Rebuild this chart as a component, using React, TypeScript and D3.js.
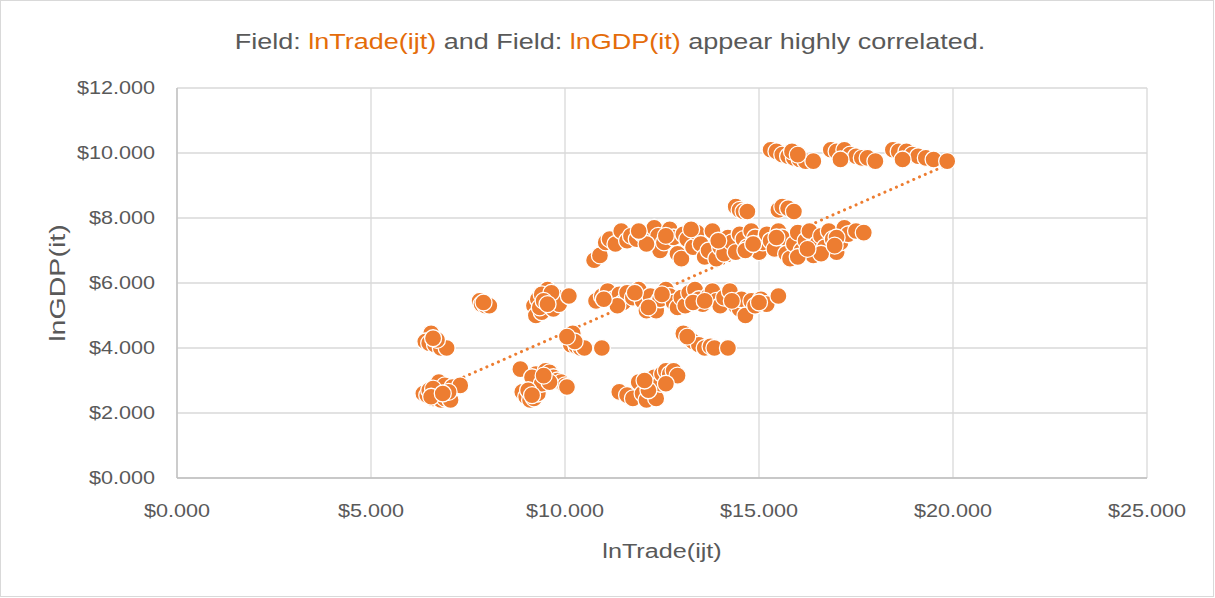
// Scatter of lnGDP(it) vs lnTrade(ijt) with a linear trendline
import React, {useMemo} from 'react';
import * as d3 from 'd3';

// [lnTrade(ijt), lnGDP(it)], grouped by visible cluster
const lowLeft: [number, number][] = [
  [6.35, 2.6], [6.45, 2.55], [6.6, 2.45], [6.7, 2.5], [6.8, 2.4], [6.9, 2.45], [7.05, 2.4],
  [6.5, 2.7], [6.75, 2.95], [6.9, 2.85], [7.1, 2.8], [7.3, 2.85], [6.6, 2.75], [7.0, 2.65],
  [6.55, 2.5], [6.85, 2.6],
];
const fourLeft: [number, number][] = [
  [6.55, 4.45], [6.4, 4.2], [6.5, 4.15], [6.65, 4.1], [6.8, 4.0], [6.95, 4.0], [6.7, 4.25], [6.6, 4.3],
];
const fiveLeft: [number, number][] = [
  [7.8, 5.45], [7.85, 5.35], [7.95, 5.3], [8.05, 5.3], [7.9, 5.4],
];
const lowMid: [number, number][] = [
  [8.85, 3.35], [8.9, 2.65], [9.0, 2.5], [9.1, 2.4], [9.2, 2.45], [9.25, 3.2], [9.35, 3.05],
  [9.5, 3.3], [9.6, 3.25], [9.7, 3.1], [9.8, 3.0], [9.9, 2.95], [10.0, 2.85], [10.05, 2.8],
  [9.3, 2.6], [9.15, 3.1], [9.4, 2.9], [9.6, 2.95], [9.05, 2.7], [9.45, 3.15], [9.15, 2.55],
];
const fiveMid: [number, number][] = [
  [9.55, 5.8], [9.5, 5.3], [9.2, 5.3], [9.25, 5.0], [9.3, 5.5], [9.4, 5.1], [9.6, 5.5],
  [9.7, 5.2], [9.75, 5.6], [9.85, 5.35], [9.4, 5.65], [10.1, 5.6], [9.35, 5.25], [9.65, 5.7],
  [9.45, 5.45], [9.55, 5.35],
];
const fourMid: [number, number][] = [
  [10.2, 4.45], [10.1, 4.25], [10.15, 4.1], [10.3, 4.05], [10.4, 4.0], [10.5, 4.0],
  [10.25, 4.2], [10.95, 4.0], [10.05, 4.35],
];
const fiveBand: [number, number][] = [
  [10.8, 5.45], [10.95, 5.6], [11.1, 5.75], [11.25, 5.5], [11.4, 5.65], [11.5, 5.4], [11.6, 5.7],
  [11.75, 5.55], [11.9, 5.8], [12.0, 5.45], [12.1, 5.15], [12.2, 5.6], [12.3, 5.3], [12.35, 5.15],
  [12.45, 5.5], [12.6, 5.8], [12.7, 5.6], [12.8, 5.4], [12.9, 5.25], [13.0, 5.55], [13.1, 5.3],
  [13.2, 5.7], [13.35, 5.8], [13.45, 5.5], [13.55, 5.35], [13.7, 5.6], [13.8, 5.75], [13.9, 5.45],
  [14.0, 5.3], [14.1, 5.55], [14.25, 5.75], [14.4, 5.3], [14.5, 5.2], [14.55, 5.5], [14.65, 5.0],
  [14.8, 5.45], [14.9, 5.3], [15.05, 5.5], [15.2, 5.35], [15.5, 5.6], [13.3, 5.4], [12.15, 5.25],
  [11.35, 5.3], [11.0, 5.5], [11.8, 5.7], [12.5, 5.65], [13.6, 5.45], [14.3, 5.45], [15.0, 5.4],
];
const lowRight: [number, number][] = [
  [11.4, 2.65], [11.6, 2.55], [11.75, 2.45], [11.9, 2.95], [12.0, 2.6], [12.1, 2.4], [12.2, 2.8],
  [12.3, 3.1], [12.35, 2.45], [12.45, 2.9], [12.5, 3.2], [12.6, 3.3], [12.7, 3.2], [12.8, 3.3],
  [12.9, 3.15], [12.15, 2.7], [12.6, 2.9], [12.05, 3.0],
];
const fourRight: [number, number][] = [
  [13.05, 4.45], [13.2, 4.3], [13.3, 4.2], [13.45, 4.1], [13.6, 4.0], [13.75, 4.05], [13.85, 4.0],
  [14.2, 4.0], [13.15, 4.35],
];
const sevenBand: [number, number][] = [
  [10.75, 6.7], [10.9, 6.85], [11.05, 7.25], [11.15, 7.35], [11.3, 7.2], [11.45, 7.6], [11.6, 7.3],
  [11.7, 7.45], [11.85, 7.35], [12.0, 7.5], [12.15, 7.4], [12.3, 7.7], [12.4, 7.45], [12.45, 7.0],
  [12.55, 7.25], [12.7, 7.65], [12.8, 7.4], [12.9, 6.9], [13.0, 6.75], [13.05, 7.5], [13.15, 7.35],
  [13.3, 7.1], [13.4, 7.55], [13.5, 7.2], [13.6, 6.8], [13.7, 7.0], [13.8, 7.6], [13.9, 6.75],
  [14.0, 7.1], [14.1, 6.9], [14.2, 7.4], [14.3, 7.25], [14.4, 6.95], [14.5, 7.5], [14.6, 7.35],
  [14.7, 7.1], [14.8, 7.6], [14.9, 7.4], [15.0, 6.95], [15.1, 7.25], [15.2, 7.5], [15.3, 7.3],
  [15.4, 7.05], [15.5, 7.6], [15.6, 7.4], [15.7, 6.9], [15.8, 6.75], [15.9, 7.2], [16.0, 7.55],
  [16.1, 7.0], [16.2, 7.3], [16.3, 7.6], [16.4, 6.85], [16.5, 7.2], [16.6, 7.45], [16.7, 7.1],
  [16.8, 7.6], [16.9, 7.35], [17.0, 6.95], [17.1, 7.25], [17.2, 7.7], [17.3, 7.5], [17.5, 7.6],
  [17.7, 7.55], [12.1, 7.2], [11.9, 7.6], [13.25, 7.65], [14.65, 7.0], [16.0, 6.8], [16.6, 6.9],
  [17.0, 7.4], [12.6, 7.45], [13.95, 7.3], [14.85, 7.2], [15.45, 7.4], [16.25, 7.05], [16.95, 7.15],
];
const eightBand: [number, number][] = [
  [14.4, 8.35], [14.5, 8.25], [14.6, 8.2], [14.7, 8.2], [15.5, 8.25], [15.6, 8.35], [15.75, 8.3], [15.9, 8.2],
];
const tenBand: [number, number][] = [
  [15.3, 10.1], [15.45, 10.05], [15.6, 9.95], [15.75, 9.9], [15.9, 9.85], [16.05, 9.8], [16.2, 9.75],
  [16.4, 9.75], [15.85, 10.05], [16.0, 9.95],
  [16.85, 10.1], [17.0, 10.05], [17.2, 10.1], [17.35, 9.95], [17.5, 9.9], [17.65, 9.85], [17.8, 9.85],
  [18.0, 9.75], [17.1, 9.8],
  [18.45, 10.1], [18.6, 10.05], [18.8, 10.05], [18.95, 9.95], [19.1, 9.9], [19.3, 9.85], [19.5, 9.8],
  [19.85, 9.75], [18.7, 9.8],
];

const points = [
  ...lowLeft, ...fourLeft, ...fiveLeft, ...lowMid, ...fiveMid, ...fourMid, ...fiveBand,
  ...lowRight, ...fourRight, ...sevenBand, ...eightBand, ...tenBand,
];

const xTicks = [0, 5, 10, 15, 20, 25];
const yTicks = [0, 2, 4, 6, 8, 10, 12];

const W = 1215;
const H = 598;
const margin = {top: 88, right: 68, bottom: 120, left: 177};
const orange = '#ED7D31';
const textGrey = '#595959';
const font = '"Liberation Sans", Arial, sans-serif';
// the reference text is wider than Liberation Sans, so stretch it sideways
const sx = 1.2;

const fmt = (v: number) => `$${d3.format('.3f')(v)}`;

/** least squares fit of y on x */
function linearFit(data: [number, number][]) {
  const mx = d3.mean(data, d => d[0]) as number;
  const my = d3.mean(data, d => d[1]) as number;
  let sxy = 0;
  let sxx = 0;
  data.forEach(([x, y]) => {
    sxy += (x - mx) * (y - my);
    sxx += (x - mx) * (x - mx);
  });
  const slope = sxy / sxx;
  return {slope, intercept: my - slope * mx};
}

const App: React.FC = () => {
  const innerW = W - margin.left - margin.right;
  const innerH = H - margin.top - margin.bottom;

  const xScale = useMemo(() => d3.scaleLinear().domain([0, 25]).range([0, innerW]), [innerW]);
  const yScale = useMemo(() => d3.scaleLinear().domain([0, 12]).range([innerH, 0]), [innerH]);

  const trend = useMemo(() => {
    const {slope, intercept} = linearFit(points);
    const [x0, x1] = d3.extent(points, d => d[0]) as [number, number];
    const line = d3.line<number>()
        .x(d => xScale(d))
        .y(d => yScale(slope * d + intercept));
    return line([x0, x1]) as string;
  }, [xScale, yScale]);

  return (
      <svg width={W} height={H} style={{position: 'absolute', left: 0, top: 0, background: '#fff'}}
           fontFamily={font}>
        <rect x={0.5} y={0.5} width={W - 2} height={H - 2} fill="#fff" stroke="#d9d9d9"/>

        <text transform={`translate(610,49) scale(${sx},1)`} textAnchor="middle" fontSize={22.5}
              fill={textGrey}>
          Field: <tspan fill="#E46C0A">lnTrade(ijt)</tspan> and Field: <tspan
            fill="#E46C0A">lnGDP(it)</tspan> appear highly correlated.
        </text>

        <g transform={`translate(${margin.left},${margin.top})`}>
          {xTicks.map(t => (
              <line key={`gx${t}`} x1={xScale(t)} x2={xScale(t)} y1={0} y2={innerH}
                    stroke="#d9d9d9" strokeWidth={1.3}/>
          ))}
          {yTicks.map(t => (
              <line key={`gy${t}`} x1={0} x2={innerW} y1={yScale(t)} y2={yScale(t)}
                    stroke="#d9d9d9" strokeWidth={1.3}/>
          ))}
          <line x1={0} x2={0} y1={0} y2={innerH} stroke="#bfbfbf" strokeWidth={1.3}/>
          <line x1={0} x2={innerW} y1={innerH} y2={innerH} stroke="#bfbfbf" strokeWidth={1.3}/>

          {yTicks.map(t => (
              <text key={`ty${t}`} transform={`translate(-22,${yScale(t)}) scale(${sx},1)`}
                    dy="0.35em" textAnchor="end" fontSize={18} fill={textGrey}>{fmt(t)}</text>
          ))}
          {xTicks.map(t => (
              <text key={`tx${t}`} transform={`translate(${xScale(t)},${innerH + 39}) scale(${sx},1)`}
                    textAnchor="middle" fontSize={18} fill={textGrey}>{fmt(t)}</text>
          ))}

          <path d={trend} fill="none" stroke={orange} strokeWidth={3}
                strokeDasharray="0.1 6.2" strokeLinecap="round"/>

          {points.map((d, i) => (
              <circle key={i} cx={xScale(d[0])} cy={yScale(d[1])} r={8.5}
                      fill={orange} stroke="#fff" strokeWidth={1.3}/>
          ))}
        </g>

        <text transform={`translate(${margin.left + innerW / 2},558) scale(${sx},1)`}
              textAnchor="middle" fontSize={21} fill={textGrey}>lnTrade(ijt)</text>
        <text transform={`translate(65,${margin.top + innerH / 2}) rotate(-90) scale(1.3,1)`}
              textAnchor="middle" fontSize={22} fill={textGrey}>lnGDP(it)</text>
      </svg>
  );
};

export default App;
